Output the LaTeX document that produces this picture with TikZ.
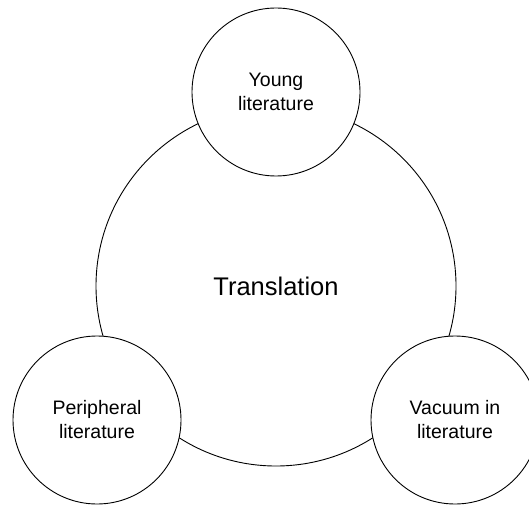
\documentclass[tikz,border=0pt]{standalone}
\usepackage{fontspec}
\setmainfont{Liberation Sans}

\tikzset{
	ring/.style={circle, draw=black, line width=0.9pt, fill=white, inner sep=0pt, align=center},
	smalltext/.style={font=\fontsize{19.5}{24}\selectfont},
	bigtext/.style={font=\fontsize{25.5}{30}\selectfont}
}

\begin{document}
\begin{tikzpicture}[x=1pt,y=-1pt]
			\useasboundingbox (0,0) rectangle (529,505);
			
			\node[ring, bigtext, minimum size=360pt] (transl) at (276,286) {Translation};
			
			\node[ring, smalltext, minimum size=168pt] (young)  at (276,92)  {Young\\literature};
			\node[ring, smalltext, minimum size=168pt] (periph) at (97,420)  {Peripheral\\literature};
			\node[ring, smalltext, minimum size=168pt] (vacuum) at (455,420) {Vacuum in\\literature};
		\end{tikzpicture}
\end{document}
